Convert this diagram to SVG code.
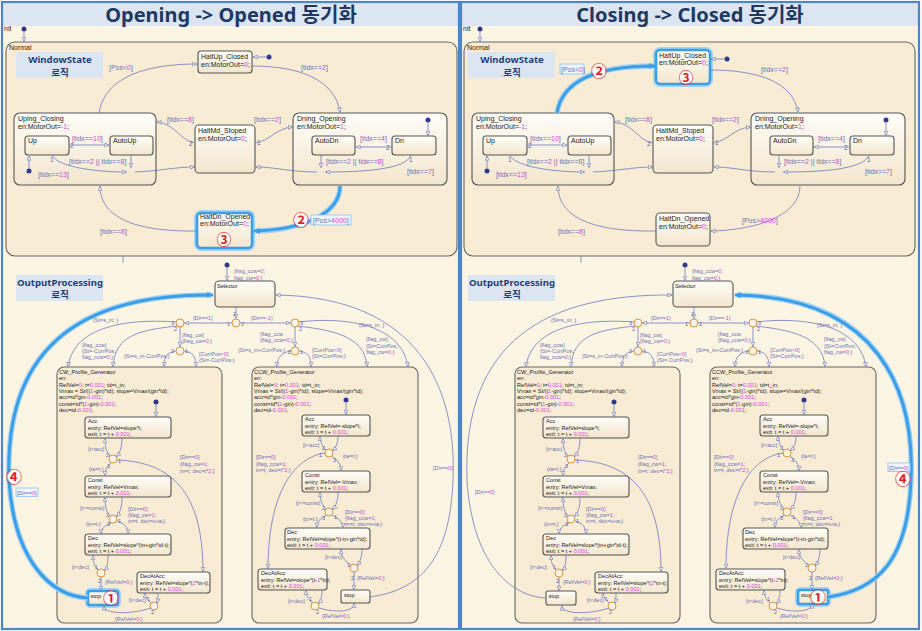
<svg xmlns="http://www.w3.org/2000/svg" width="922" height="631" viewBox="0 0 922 631">
<defs>
<style>
.bg{fill:#fdf5e3}
.tb{fill:#dce6f2}
.pb{fill:none;stroke:#4a86c8;stroke-width:2.2}
.ttl{font-family:"Noto Sans","Noto Sans CJK KR",sans-serif;font-weight:bold;font-size:20px;fill:#1f3864;text-anchor:middle}
.lg{fill:#dce6f2}
.lgt{font-family:"Noto Sans","Noto Sans CJK KR",sans-serif;font-size:9.6px;font-weight:bold;fill:#233f7a;text-anchor:middle}
.sup{fill:#f8ecd5;stroke:#666;stroke-width:1.1}
.st{fill:url(#gs);stroke:#555;stroke-width:1.1}
.t{font-family:"Liberation Sans",Arial,sans-serif;font-size:7px;fill:#1a1a1a}
.s{font-family:"Liberation Sans",Arial,sans-serif;font-size:5.6px;fill:#1a1a1a}
.l{font-family:"Liberation Sans",Arial,sans-serif;font-size:7px;fill:#6d70b3}
.ls{font-family:"Liberation Sans",Arial,sans-serif;font-size:5.5px;fill:#6d70b3}
.m{fill:#e03ee0}
.p{font-family:"Liberation Sans",Arial,sans-serif;font-size:6.5px;fill:#5b60a8}
.ps{font-family:"Liberation Sans",Arial,sans-serif;font-size:5.5px;fill:#5b60a8}
.tr{fill:none;stroke:#7079bc;stroke-width:0.8;marker-end:url(#a)}
.ln{fill:none;stroke:#7079bc;stroke-width:0.8}
.jn{fill:#fdf4e4;stroke:#e8913a;stroke-width:1}
.dt{fill:#2e3a8c}
.hg{fill:none;stroke:#a6d3f5;stroke-width:6}
.hb{fill:none;stroke:#3b9fe8;stroke-width:2.6}
.htg{fill:none;stroke:#a6d3f5;stroke-width:5.5}
.ht{fill:none;stroke:#3b9fe8;stroke-width:3;marker-end:url(#ab)}
.lbx{fill:#eef5fb;stroke:#8cc4ee;stroke-width:0.8}
.rc{fill:#ffffff}
.rn{font-family:"Noto Sans CJK KR","Noto Sans CJK SC",sans-serif;font-weight:bold;font-size:16px;fill:#e41e1e;text-anchor:middle}
.rn2{font-family:"Noto Sans CJK KR","Noto Sans CJK SC",sans-serif;font-weight:bold;font-size:14.5px;fill:#e41e1e;text-anchor:middle}
</style>
<linearGradient id="gs" x1="0" y1="0" x2="0" y2="1"><stop offset="0" stop-color="#fffdf8"/><stop offset="1" stop-color="#f3e6cd"/></linearGradient>
<marker id="a" viewBox="0 0 6 6" refX="5.5" refY="3" markerWidth="5" markerHeight="5" markerUnits="userSpaceOnUse" orient="auto"><path d="M0.5 0.8 L5.5 3 L0.5 5.2 Z" fill="#fdf6e6" stroke="#7079bc" stroke-width="0.8"/></marker>
<marker id="ab" viewBox="0 0 6 6" refX="5" refY="3" markerWidth="7" markerHeight="7" markerUnits="userSpaceOnUse" orient="auto"><path d="M0 0.5 L6 3 L0 5.5 Z" fill="#3b9fe8"/></marker>
</defs>

<!-- ================= LEFT PANEL ================= -->
<g id="L_panel">
<rect class="bg" x="3" y="3" width="455" height="625"/>
<rect class="tb" x="3" y="3" width="455" height="23"/>
<text class="ttl" x="231" y="21.5">Opening -&gt; Opened 동기화</text>
<text class="t" x="4" y="31">nit</text>

<g id="L_Normal"><rect class="sup" x="6" y="42" width="451" height="214" rx="9"/><text class="t" x="9" y="50">Normal</text></g>
<g id="L_WindowState_label"><rect class="lg" x="16" y="52" width="87" height="26"/><text class="lgt"><tspan x="60" y="63">WindowState</tspan><tspan x="60" y="75.5">로직</tspan></text></g>
<g id="L_init_normal"><circle class="dt" cx="24" cy="29" r="2.5"/></g>
<g id="L_HaltUp_Closed"><rect class="st" x="198" y="51" width="54" height="22" rx="3"/><text class="t" x="201" y="59">HaltUp_Closed</text><text class="t" x="201" y="67">en:MotorOut=<tspan class="m">0</tspan>;</text></g>
<g id="L_init_hu"><circle class="dt" cx="269" cy="57" r="2.5"/></g>
<g id="L_Uping_Closing"><rect class="st" x="14" y="113" width="142" height="72" rx="6"/><text class="t" x="18" y="121">Uping_Closing</text><text class="t" x="18" y="129">en:MotorOut=<tspan class="m">-1</tspan>;</text></g>
<g id="L_Up"><rect class="st" x="25" y="136" width="44" height="19" rx="3"/><text class="t" x="28" y="143">Up</text></g>
<g id="L_AutoUp"><rect class="st" x="110" y="136" width="43" height="19" rx="3"/><text class="t" x="113" y="143">AutoUp</text></g>
<g id="L_init_up"><circle class="dt" cx="29" cy="171" r="2.5"/></g>
<g id="L_HaltMd_Stoped"><rect class="st" x="195" y="125" width="60" height="48" rx="4"/><text class="t" x="198" y="133">HaltMd_Stoped</text><text class="t" x="198" y="141">en:MotorOut=<tspan class="m">0</tspan>;</text></g>
<g id="L_Dning_Opening"><rect class="st" x="293" y="113" width="154" height="72" rx="6"/><text class="t" x="297" y="121">Dning_Opening</text><text class="t" x="297" y="129">en:MotorOut=<tspan class="m">1</tspan>;</text></g>
<g id="L_AutoDn"><rect class="st" x="312" y="136" width="43" height="19" rx="3"/><text class="t" x="315" y="143">AutoDn</text></g>
<g id="L_Dn"><rect class="st" x="392" y="136" width="44" height="19" rx="3"/><text class="t" x="395" y="143">Dn</text></g>
<g id="L_init_dn"><circle class="dt" cx="428" cy="120" r="2.5"/></g>
<g id="L_HaltDn_Opened"><rect class="hg" x="197" y="213" width="55" height="35" rx="4"/><rect class="st" x="197" y="213" width="55" height="35" rx="4"/><rect class="hb" x="197" y="213" width="55" height="35" rx="4"/><text class="t" x="200" y="219">HaltDn_Opened</text><text class="t" x="200" y="225.5">en:MotorOut=<tspan class="m">0</tspan>;</text><circle class="rc" cx="224" cy="239" r="6"/><text class="rn2" x="224" y="244.5">③</text></g>

<g id="L_OutputProcessing_label"><rect class="lg" x="16" y="275" width="87" height="26"/><text class="lgt"><tspan x="60" y="286">OutputProcessing</tspan><tspan x="60" y="298">로직</tspan></text></g>
<g id="L_init_sel"><circle class="dt" cx="227" cy="265" r="2.5"/></g>
<g id="L_Selector"><rect class="st" x="215" y="281" width="60" height="26" rx="4"/><text class="s" x="217" y="288">Selector</text></g>
<g id="L_j0"><circle class="jn" cx="236" cy="323" r="4"/></g>
<g id="L_jL"><circle class="jn" cx="180" cy="323" r="4"/></g>
<g id="L_jL2"><circle class="jn" cx="180" cy="351" r="4"/></g>
<g id="L_jR"><circle class="jn" cx="295" cy="323" r="4"/></g>
<g id="L_jR2"><circle class="jn" cx="295" cy="351" r="4"/></g>

<g id="L_CW_Profile_Generator"><rect class="sup" x="57" y="367" width="165" height="256" rx="7"/>
<text class="s" x="59" y="374">CW_Profile_Generator</text>
<text class="s" x="59" y="380.3">en:</text>
<text class="s" x="59" y="386.6">RefVel=<tspan class="m">0</tspan>; t=<tspan class="m">0.001</tspan>; td=t_in;</text>
<text class="s" x="59" y="392.9">Vmax = St/((<tspan class="m">1</tspan>-gin)*td); slope=Vmax/(gin*td);</text>
<text class="s" x="59" y="399.2">acc=td*gin-<tspan class="m">0.001</tspan>;</text>
<text class="s" x="59" y="405.5">const=td*(<tspan class="m">1</tspan>-gin)-<tspan class="m">0.001</tspan>;</text>
<text class="s" x="59" y="411.8">dec=td-<tspan class="m">0.001</tspan>;</text></g>
<g id="L_cw_init"><circle class="dt" cx="156" cy="402" r="2.5"/></g>
<g id="L_cw_Acc"><rect class="st" x="85" y="417" width="86" height="21" rx="3"/><text class="s" x="88" y="423">Acc</text><text class="s" x="88" y="429.5">entry: RefVel=slope*t;</text><text class="s" x="88" y="436">exit: t = t + <tspan class="m">0.001</tspan>;</text></g>
<g id="L_cw_Const"><rect class="st" x="85" y="476" width="86" height="21" rx="3"/><text class="s" x="88" y="482">Const</text><text class="s" x="88" y="488.5">entry: RefVel=Vmax;</text><text class="s" x="88" y="495">exit: t = t + <tspan class="m">0.001</tspan>;</text></g>
<g id="L_cw_Dec"><rect class="st" x="85" y="534" width="86" height="21" rx="3"/><text class="s" x="88" y="540">Dec</text><text class="s" x="88" y="546.5">entry: RefVel=slope*(tn+gin*td-t);</text><text class="s" x="88" y="553">exit: t = t + <tspan class="m">0.001</tspan>;</text></g>
<g id="L_cw_DecAtAcc"><rect class="st" x="137" y="572" width="73" height="21" rx="3"/><text class="s" x="140" y="578">DecAtAcc</text><text class="s" x="140" y="584.5">entry: RefVel=slope*(<tspan class="m">2</tspan>*tn-t);</text><text class="s" x="140" y="591">exit: t = t + <tspan class="m">0.001</tspan>;</text></g>
<g id="L_cw_stop"><rect class="hg" x="88" y="591" width="30" height="14" rx="2"/><rect class="st" x="88" y="591" width="30" height="14" rx="2"/><rect class="hb" x="88" y="591" width="30" height="14" rx="2"/><text class="s" x="90.5" y="597.5">stop</text><circle class="rc" cx="111" cy="598" r="6.5"/><text class="rn" x="111" y="604">①</text></g>
<g id="L_cw_jA"><circle class="jn" cx="113" cy="459" r="4"/></g>
<g id="L_cw_jC"><circle class="jn" cx="113" cy="519" r="4"/></g>
<g id="L_cw_jD"><circle class="jn" cx="101" cy="573" r="4"/></g>
<g id="L_cw_jE"><circle class="jn" cx="154" cy="606" r="4"/></g>

<g id="L_CCW_Profile_Generator"><rect class="sup" x="252" y="367" width="166" height="256" rx="7"/>
<text class="s" x="254" y="374">CCW_Profile_Generator</text>
<text class="s" x="254" y="380.3">en:</text>
<text class="s" x="254" y="386.6">RefVel=<tspan class="m">0</tspan>; t=<tspan class="m">0.001</tspan>; td=t_in;</text>
<text class="s" x="254" y="392.9">Vmax = St/((<tspan class="m">1</tspan>-gin)*td); slope=Vmax/(gin*td);</text>
<text class="s" x="254" y="399.2">acc=td*gin-<tspan class="m">0.001</tspan>;</text>
<text class="s" x="254" y="405.5">const=td*(<tspan class="m">1</tspan>-gin)-<tspan class="m">0.001</tspan>;</text>
<text class="s" x="254" y="411.8">dec=td-<tspan class="m">0.001</tspan>;</text></g>
<g id="L_ccw_init"><circle class="dt" cx="346" cy="400" r="2.5"/></g>
<g id="L_ccw_Acc"><rect class="st" x="302" y="415" width="68" height="21" rx="3"/><text class="s" x="305" y="421">Acc</text><text class="s" x="305" y="427.5">entry: RefVel=-slope*t;</text><text class="s" x="305" y="434">exit: t = t + <tspan class="m">0.001</tspan>;</text></g>
<g id="L_ccw_Const"><rect class="st" x="302" y="471" width="68" height="21" rx="3"/><text class="s" x="305" y="477">Const</text><text class="s" x="305" y="483.5">entry: RefVel=-Vmax;</text><text class="s" x="305" y="490">exit: t = t + <tspan class="m">0.001</tspan>;</text></g>
<g id="L_ccw_Dec"><rect class="st" x="285" y="528" width="85" height="21" rx="3"/><text class="s" x="287" y="534">Dec</text><text class="s" x="287" y="540.5">entry: RefVel=slope*(t-tn-gin*td);</text><text class="s" x="287" y="547">exit: t = t + <tspan class="m">0.001</tspan>;</text></g>
<g id="L_ccw_DecAtAcc"><rect class="st" x="258" y="569" width="69" height="21" rx="3"/><text class="s" x="261" y="575">DecAtAcc</text><text class="s" x="261" y="581.5">entry: RefVel=slope*(t-<tspan class="m">2</tspan>*tn);</text><text class="s" x="261" y="588">exit: t = t + <tspan class="m">0.001</tspan>;</text></g>
<g id="L_ccw_stop"><rect class="st" x="341" y="590" width="29" height="13" rx="2"/><text class="s" x="344" y="596.5">stop</text></g>
<g id="L_ccw_jA"><circle class="jn" cx="329" cy="453" r="4"/></g>
<g id="L_ccw_jC"><circle class="jn" cx="329" cy="512" r="4"/></g>
<g id="L_ccw_jD"><circle class="jn" cx="354" cy="568" r="4"/></g>
<g id="L_ccw_jE"><circle class="jn" cx="315" cy="606" r="4"/></g>

<g id="L_connectors">
<path class="tr" d="M24 31.5 V41.5"/>
<path class="tr" d="M266.5 57 H253"/>
<path class="tr" d="M99 113 C105 75 150 64 197 64"/>
<path class="tr" d="M252 66 C300 66 335 80 340 112"/>
<path class="tr" d="M69 145 H109"/>
<path class="tr" d="M29 168.5 V156"/>
<path class="tr" d="M131 155 V167.5"/>
<path class="tr" d="M52 155 C58 168 100 172 126.5 172"/>
<path class="tr" d="M135 172 C160 171 175 167 194.5 167"/>
<path class="tr" d="M195 143 C180 141 176 124 157 122"/>
<path class="tr" d="M255 143 C270 141 276 128 292.5 127"/>
<path class="tr" d="M428 122.5 V135.5"/>
<path class="tr" d="M392 147 H356"/>
<path class="tr" d="M321 155 V167.5"/>
<path class="tr" d="M411 155 C406 170 360 172 325.5 172"/>
<path class="tr" d="M317 172 C290 172 275 167 256 167"/>
<path class="htg" d="M340 186 C340 215 300 230 256 231"/>
<path class="ht" d="M340 186 C340 215 300 230 254 231"/>
<path class="tr" d="M197 231 C130 232 100 215 100 186"/>
<path class="ln" d="M123 256 V263"/>
<path class="tr" d="M227 267.5 V280.5"/>
<path class="tr" d="M236 307 V318.5"/>
<path class="tr" d="M232 323 H184.5"/>
<path class="tr" d="M240 323 H290.5"/>
<path class="tr" d="M176 322 C150 320 75 318 68 366.5"/>
<path class="tr" d="M177 326 C140 330 115 335 113 366.5"/>
<path class="tr" d="M180 327 V346.5"/>
<path class="tr" d="M176 351 C168 352 164 356 164 366.5"/>
<path class="tr" d="M184 351 C192 352 196 356 196 366.5"/>
<path class="tr" d="M295 327 V346.5"/>
<path class="tr" d="M291 351 C283 352 277 356 277 366.5"/>
<path class="tr" d="M299 351 C307 352 311 356 311 366.5"/>
<path class="tr" d="M299 322 C330 318 400 318 408 366.5"/>
<path class="tr" d="M298 326 C330 330 365 335 367 366.5"/>
<path class="tr" d="M156 404.5 V416.5"/>
<path class="tr" d="M110 456 C106 452 105 445 105 438.5"/>
<path class="tr" d="M122 438 C122 447 120 453 116.5 456.5"/>
<path class="tr" d="M111 463 C106 467 105 471 105 475.5"/>
<path class="tr" d="M117 460 C170 462 203 490 203 571.5"/>
<path class="tr" d="M110 516 C106 512 105 505 105 497.5"/>
<path class="tr" d="M122 497 C122 507 120 513 116.5 516.5"/>
<path class="tr" d="M111 523 C104 526 101 529 101 533.5"/>
<path class="tr" d="M117 521 C124 523 128 527 128 533.5"/>
<path class="tr" d="M98 570 C94 566 93 561 93 555.5"/>
<path class="tr" d="M108 555 C108 563 107 568 104.5 570.5"/>
<path class="tr" d="M101 577 V590.5"/>
<path class="tr" d="M151 603 C147 599 145 597 145 593.5"/>
<path class="tr" d="M158 593 C158 598 158 600 157 603"/>
<path class="tr" d="M151 608 C130 615 104 614 104 606"/>
<path class="tr" d="M346 402.5 V414.5"/>
<path class="tr" d="M326 450 C322 446 320 441 320 436.5"/>
<path class="tr" d="M338 436 C338 443 336 448 332.5 450.5"/>
<path class="tr" d="M332 456.5 C338 460 341 465 341 470.5"/>
<path class="tr" d="M325 453 C290 458 268 500 268 568.5"/>
<path class="tr" d="M326 509 C322 505 320 499 320 492.5"/>
<path class="tr" d="M338 492 C338 501 336 506 332.5 509.5"/>
<path class="tr" d="M326 515.5 C320 518 317 522 317 527.5"/>
<path class="tr" d="M332.5 515.5 C338 518 343 522 343 527.5"/>
<path class="tr" d="M351 565 C343 560 341 555 341 549.5"/>
<path class="tr" d="M362 549 C362 557 360 562 357.5 565.5"/>
<path class="tr" d="M354 572 V589.5"/>
<path class="tr" d="M312 603 C308 599 306 595 306 590.5"/>
<path class="tr" d="M322 590 C322 597 321 601 318.5 603.5"/>
<path class="tr" d="M319 608 C335 613 354 612 354 603.5"/>
<path class="htg" d="M88 598 C50 596 14 560 9 480 C4 340 90 294 211 295"/>
<path class="ht" d="M88 598 C50 596 14 560 9 480 C4 340 90 294 213 295"/>
<path class="tr" d="M370 597 C420 590 450 560 453 480 C457 390 420 297 276 295"/>
</g>

<g id="L_labels">
<text class="l" x="109" y="70">[Pos&lt;<tspan class="m">0</tspan>]</text>
<text class="l" x="301" y="70">[tidx==<tspan class="m">2</tspan>]</text>
<text class="l" x="72" y="141">[tidx==<tspan class="m">10</tspan>]</text>
<text class="p" x="70" y="148">2</text>
<text class="l" x="69" y="164">[tidx==<tspan class="m">2</tspan> || tidx==<tspan class="m">8</tspan>]</text>
<text class="p" x="50" y="162">1</text>
<text class="l" x="38" y="177">[tidx==<tspan class="m">13</tspan>]</text>
<text class="l" x="167" y="122">[tidx==<tspan class="m">8</tspan>]</text>
<text class="p" x="189" y="146">2</text>
<text class="l" x="254" y="122">[tidx==<tspan class="m">2</tspan>]</text>
<text class="p" x="257" y="145">1</text>
<text class="l" x="360" y="141">[tidx==<tspan class="m">4</tspan>]</text>
<text class="p" x="386" y="150">2</text>
<text class="l" x="326" y="164">[tidx==<tspan class="m">2</tspan> || tidx==<tspan class="m">8</tspan>]</text>
<text class="p" x="409" y="162">1</text>
<text class="l" x="407" y="174">[tidx==<tspan class="m">7</tspan>]</text>
<rect class="lbx" x="311" y="215" width="40" height="10"/>
<text class="l" x="313" y="222.5">[Pos&gt;<tspan class="m">4000</tspan>]</text>
<circle class="rc" cx="301" cy="220" r="6.5"/><text class="rn" x="301" y="226">②</text>
<text class="l" x="100" y="234">[tidx==<tspan class="m">8</tspan>]</text>
<text class="ls" x="234" y="273">{flag_ccw=<tspan class="m">0</tspan>;</text>
<text class="ls" x="234" y="280">flag_cw=<tspan class="m">0</tspan>;}</text>
<text class="ps" x="233" y="316">2</text>
<text class="ps" x="227" y="326">1</text>
<text class="ps" x="241" y="326">2</text>
<text class="ls" x="193" y="320">[Dir==<tspan class="m">1</tspan>]</text>
<text class="ls" x="251" y="320">[Dir==<tspan class="m">-1</tspan>]</text>
<text class="ps" x="171" y="325">3</text>
<text class="ps" x="174" y="331">2</text>
<text class="ls" x="93" y="322">{St=s_in; }</text>
<text class="ls" x="82" y="347">[flag_ccw]</text>
<text class="ls" x="82" y="353">{St=-CurrPos;</text>
<text class="ls" x="82" y="359">flag_ccw=<tspan class="m">0</tspan>;}</text>
<text class="ls" x="182" y="337">[flag_cw]</text>
<text class="ls" x="182" y="343">{flag_cw=<tspan class="m">0</tspan>;}</text>
<text class="ps" x="171" y="353">2</text>
<text class="ps" x="185" y="353">1</text>
<text class="ls" x="124" y="358">{St=s_in-CurrPos;}</text>
<text class="ls" x="199" y="356">[CurrPos&lt;<tspan class="m">0</tspan>]</text>
<text class="ls" x="199" y="362">{St=-CurrPos;}</text>
<text class="ps" x="300" y="325">3</text>
<text class="ps" x="299" y="331">2</text>
<text class="ls" x="260" y="336">[flag_ccw</text>
<text class="ls" x="260" y="342">{flag_ccw=<tspan class="m">0</tspan>;}</text>
<text class="ps" x="287.5" y="354">2</text>
<text class="ps" x="300" y="354">1</text>
<text class="ls" x="238" y="352">{St=s_in+CurrPos;}</text>
<text class="ls" x="312" y="352">[CurrPos&gt;<tspan class="m">0</tspan>]</text>
<text class="ls" x="312" y="358">{St=CurrPos;}</text>
<text class="ls" x="359" y="327">{St=s_in; }</text>
<text class="ls" x="366" y="341">[flag_cw]</text>
<text class="ls" x="366" y="348">{St=CurrPos;</text>
<text class="ls" x="366" y="354">flag_cw=<tspan class="m">0</tspan>;}</text>
<text class="ls" x="88" y="451">[t&lt;acc]</text>
<text class="ps" x="106" y="457">2</text>
<text class="ps" x="107" y="468">3</text>
<text class="ps" x="118" y="463">1</text>
<text class="ls" x="89" y="471">{ta=t;}</text>
<text class="ls" x="180" y="459">[Dir==<tspan class="m">0</tspan>]</text>
<text class="ls" x="180" y="466">{flag_cw=<tspan class="m">1</tspan>;</text>
<text class="ls" x="180" y="472.5">tn=t; dec=t*<tspan class="m">2</tspan>;}</text>
<text class="ls" x="80" y="510">[t&lt;=const]</text>
<text class="ps" x="106" y="517">2</text>
<text class="ps" x="107" y="526">3</text>
<text class="ps" x="118" y="523">1</text>
<text class="ls" x="86" y="526">{tn=t;}</text>
<text class="ls" x="128" y="511">[Dir==<tspan class="m">0</tspan>]</text>
<text class="ls" x="128" y="517">{flag_cw=<tspan class="m">1</tspan>;</text>
<text class="ls" x="128" y="523">tn=t; dec=t+ta;}</text>
<text class="ls" x="72" y="569">[t&lt;dec]</text>
<text class="ps" x="95" y="569">1</text>
<text class="ps" x="98" y="583">2</text>
<text class="ls" x="105" y="584">{RefVel=<tspan class="m">0</tspan>;}</text>
<text class="ls" x="129" y="602">[t&lt;dec]</text>
<text class="ps" x="147" y="601">1</text>
<text class="ps" x="151" y="614">2</text>
<text class="ls" x="115" y="621">{RefVel=<tspan class="m">0</tspan>;}</text>
<text class="ls" x="303" y="447">[t&lt;acc]</text>
<text class="ps" x="322" y="449.5">2</text>
<text class="ps" x="319" y="457">1</text>
<text class="ps" x="333" y="462">3</text>
<text class="ls" x="343" y="458">{ta=t;}</text>
<text class="ls" x="256" y="459">[Dir==<tspan class="m">0</tspan>]</text>
<text class="ls" x="256" y="465.5">{flag_ccw=<tspan class="m">1</tspan>;</text>
<text class="ls" x="256" y="472">tn=t; dec=t*<tspan class="m">2</tspan>;}</text>
<text class="ls" x="296" y="505">[t&lt;=const]</text>
<text class="ps" x="322" y="510">2</text>
<text class="ps" x="322" y="520">3</text>
<text class="ps" x="334" y="519">1</text>
<text class="ls" x="303" y="521">{tn=t;}</text>
<text class="ls" x="345" y="514">[Dir==<tspan class="m">0</tspan>]</text>
<text class="ls" x="345" y="520">{flag_ccw=<tspan class="m">1</tspan>;</text>
<text class="ls" x="345" y="526">tn=t; dec=t+ta;}</text>
<text class="ls" x="325" y="559">[t&lt;dec]</text>
<text class="ps" x="347" y="567">1</text>
<text class="ps" x="351" y="580">2</text>
<text class="ls" x="357" y="580">{RefVel=<tspan class="m">0</tspan>;}</text>
<text class="ls" x="288" y="603">[t&lt;dec]</text>
<text class="ps" x="309" y="601">1</text>
<text class="ps" x="316" y="614">2</text>
<text class="ls" x="322" y="618">{RefVel=<tspan class="m">0</tspan>;}</text>
<circle class="rc" cx="14" cy="477" r="6.5"/><text class="rn" x="14" y="483">④</text>
<rect class="lbx" x="16" y="488" width="22" height="8.5"/>
<text class="ls" x="17" y="494.5">[Dir==<tspan class="m">0</tspan>]</text>
<text class="ls" x="433" y="470">[Dir==<tspan class="m">0</tspan>]</text>
</g>
<rect class="pb" x="2" y="2" width="457" height="627"/>
</g>

<!-- ================= RIGHT PANEL ================= -->
<g id="R_panel" transform="translate(458,0)">
<rect class="bg" x="4" y="3" width="456" height="625"/>
<rect class="tb" x="4" y="3" width="456" height="23"/>
<text class="ttl" x="232" y="21.5">Closing -&gt; Closed 동기화</text>
<text class="t" x="5" y="31">nit</text>

<g id="R_Normal"><rect class="sup" x="6" y="42" width="451" height="214" rx="9"/><text class="t" x="9" y="50">Normal</text></g>
<g id="R_WindowState_label"><rect class="lg" x="10" y="52" width="87" height="26"/><text class="lgt"><tspan x="54" y="63">WindowState</tspan><tspan x="54" y="75.5">로직</tspan></text></g>
<g id="R_init_normal"><circle class="dt" cx="22" cy="29" r="2.5"/></g>
<g id="R_HaltUp_Closed"><rect class="hg" x="198" y="50" width="54" height="34" rx="4"/><rect class="st" x="198" y="50" width="54" height="34" rx="4"/><rect class="hb" x="198" y="50" width="54" height="34" rx="4"/><text class="t" x="201" y="57.5">HaltUp_Closed</text><text class="t" x="201" y="64.5">en:MotorOut=<tspan class="m">0</tspan>;</text><circle class="rc" cx="228" cy="77.5" r="6"/><text class="rn2" x="228" y="83">③</text></g>
<g id="R_init_hu"><circle class="dt" cx="269" cy="59" r="2.5"/></g>
<g id="R_Uping_Closing"><rect class="st" x="14" y="113" width="142" height="72" rx="6"/><text class="t" x="18" y="121">Uping_Closing</text><text class="t" x="18" y="129">en:MotorOut=<tspan class="m">-1</tspan>;</text></g>
<g id="R_Up"><rect class="st" x="25" y="136" width="44" height="19" rx="3"/><text class="t" x="28" y="143">Up</text></g>
<g id="R_AutoUp"><rect class="st" x="110" y="136" width="43" height="19" rx="3"/><text class="t" x="113" y="143">AutoUp</text></g>
<g id="R_init_up"><circle class="dt" cx="29" cy="171" r="2.5"/></g>
<g id="R_HaltMd_Stoped"><rect class="st" x="195" y="125" width="60" height="48" rx="4"/><text class="t" x="198" y="133">HaltMd_Stoped</text><text class="t" x="198" y="141">en:MotorOut=<tspan class="m">0</tspan>;</text></g>
<g id="R_Dning_Opening"><rect class="st" x="293" y="113" width="154" height="72" rx="6"/><text class="t" x="297" y="121">Dning_Opening</text><text class="t" x="297" y="129">en:MotorOut=<tspan class="m">1</tspan>;</text></g>
<g id="R_AutoDn"><rect class="st" x="312" y="136" width="43" height="19" rx="3"/><text class="t" x="315" y="143">AutoDn</text></g>
<g id="R_Dn"><rect class="st" x="392" y="136" width="44" height="19" rx="3"/><text class="t" x="395" y="143">Dn</text></g>
<g id="R_init_dn"><circle class="dt" cx="428" cy="120" r="2.5"/></g>
<g id="R_HaltDn_Opened"><rect class="st" x="198" y="213" width="54" height="33" rx="4"/><text class="t" x="201" y="221">HaltDn_Opened</text><text class="t" x="201" y="229">en:MotorOut=<tspan class="m">0</tspan>;</text></g>

<g id="R_OutputProcessing_label"><rect class="lg" x="10" y="275" width="87" height="26"/><text class="lgt"><tspan x="54" y="286">OutputProcessing</tspan><tspan x="54" y="298">로직</tspan></text></g>
<g id="R_init_sel"><circle class="dt" cx="227" cy="265" r="2.5"/></g>
<g id="R_Selector"><rect class="st" x="215" y="281" width="60" height="26" rx="4"/><text class="s" x="217" y="288">Selector</text></g>
<g id="R_j0"><circle class="jn" cx="236" cy="323" r="4"/></g>
<g id="R_jL"><circle class="jn" cx="180" cy="323" r="4"/></g>
<g id="R_jL2"><circle class="jn" cx="180" cy="351" r="4"/></g>
<g id="R_jR"><circle class="jn" cx="295" cy="323" r="4"/></g>
<g id="R_jR2"><circle class="jn" cx="295" cy="351" r="4"/></g>

<g id="R_CW_Profile_Generator"><rect class="sup" x="57" y="367" width="165" height="256" rx="7"/>
<text class="s" x="59" y="374">CW_Profile_Generator</text>
<text class="s" x="59" y="380.3">en:</text>
<text class="s" x="59" y="386.6">RefVel=<tspan class="m">0</tspan>; t=<tspan class="m">0.001</tspan>; td=t_in;</text>
<text class="s" x="59" y="392.9">Vmax = St/((<tspan class="m">1</tspan>-gin)*td); slope=Vmax/(gin*td);</text>
<text class="s" x="59" y="399.2">acc=td*gin-<tspan class="m">0.001</tspan>;</text>
<text class="s" x="59" y="405.5">const=td*(<tspan class="m">1</tspan>-gin)-<tspan class="m">0.001</tspan>;</text>
<text class="s" x="59" y="411.8">dec=td-<tspan class="m">0.001</tspan>;</text></g>
<g id="R_cw_init"><circle class="dt" cx="156" cy="402" r="2.5"/></g>
<g id="R_cw_Acc"><rect class="st" x="85" y="417" width="86" height="21" rx="3"/><text class="s" x="88" y="423">Acc</text><text class="s" x="88" y="429.5">entry: RefVel=slope*t;</text><text class="s" x="88" y="436">exit: t = t + <tspan class="m">0.001</tspan>;</text></g>
<g id="R_cw_Const"><rect class="st" x="85" y="476" width="86" height="21" rx="3"/><text class="s" x="88" y="482">Const</text><text class="s" x="88" y="488.5">entry: RefVel=Vmax;</text><text class="s" x="88" y="495">exit: t = t + <tspan class="m">0.001</tspan>;</text></g>
<g id="R_cw_Dec"><rect class="st" x="85" y="534" width="86" height="21" rx="3"/><text class="s" x="88" y="540">Dec</text><text class="s" x="88" y="546.5">entry: RefVel=slope*(tn+gin*td-t);</text><text class="s" x="88" y="553">exit: t = t + <tspan class="m">0.001</tspan>;</text></g>
<g id="R_cw_DecAtAcc"><rect class="st" x="137" y="572" width="73" height="21" rx="3"/><text class="s" x="140" y="578">DecAtAcc</text><text class="s" x="140" y="584.5">entry: RefVel=slope*(<tspan class="m">2</tspan>*tn-t);</text><text class="s" x="140" y="591">exit: t = t + <tspan class="m">0.001</tspan>;</text></g>
<g id="R_cw_stop"><rect class="st" x="88" y="591" width="30" height="14" rx="2"/><text class="s" x="90.5" y="597.5">stop</text></g>
<g id="R_cw_jA"><circle class="jn" cx="113" cy="459" r="4"/></g>
<g id="R_cw_jC"><circle class="jn" cx="113" cy="519" r="4"/></g>
<g id="R_cw_jD"><circle class="jn" cx="101" cy="573" r="4"/></g>
<g id="R_cw_jE"><circle class="jn" cx="154" cy="606" r="4"/></g>

<g id="R_CCW_Profile_Generator"><rect class="sup" x="252" y="367" width="166" height="256" rx="7"/>
<text class="s" x="254" y="374">CCW_Profile_Generator</text>
<text class="s" x="254" y="380.3">en:</text>
<text class="s" x="254" y="386.6">RefVel=<tspan class="m">0</tspan>; t=<tspan class="m">0.001</tspan>; td=t_in;</text>
<text class="s" x="254" y="392.9">Vmax = St/((<tspan class="m">1</tspan>-gin)*td); slope=Vmax/(gin*td);</text>
<text class="s" x="254" y="399.2">acc=td*gin-<tspan class="m">0.001</tspan>;</text>
<text class="s" x="254" y="405.5">const=td*(<tspan class="m">1</tspan>-gin)-<tspan class="m">0.001</tspan>;</text>
<text class="s" x="254" y="411.8">dec=td-<tspan class="m">0.001</tspan>;</text></g>
<g id="R_ccw_init"><circle class="dt" cx="346" cy="400" r="2.5"/></g>
<g id="R_ccw_Acc"><rect class="st" x="302" y="415" width="68" height="21" rx="3"/><text class="s" x="305" y="421">Acc</text><text class="s" x="305" y="427.5">entry: RefVel=-slope*t;</text><text class="s" x="305" y="434">exit: t = t + <tspan class="m">0.001</tspan>;</text></g>
<g id="R_ccw_Const"><rect class="st" x="302" y="471" width="68" height="21" rx="3"/><text class="s" x="305" y="477">Const</text><text class="s" x="305" y="483.5">entry: RefVel=-Vmax;</text><text class="s" x="305" y="490">exit: t = t + <tspan class="m">0.001</tspan>;</text></g>
<g id="R_ccw_Dec"><rect class="st" x="285" y="528" width="85" height="21" rx="3"/><text class="s" x="287" y="534">Dec</text><text class="s" x="287" y="540.5">entry: RefVel=slope*(t-tn-gin*td);</text><text class="s" x="287" y="547">exit: t = t + <tspan class="m">0.001</tspan>;</text></g>
<g id="R_ccw_DecAtAcc"><rect class="st" x="258" y="569" width="69" height="21" rx="3"/><text class="s" x="261" y="575">DecAtAcc</text><text class="s" x="261" y="581.5">entry: RefVel=slope*(t-<tspan class="m">2</tspan>*tn);</text><text class="s" x="261" y="588">exit: t = t + <tspan class="m">0.001</tspan>;</text></g>
<g id="R_ccw_stop"><rect class="hg" x="340" y="590" width="30" height="14" rx="2"/><rect class="st" x="340" y="590" width="30" height="14" rx="2"/><rect class="hb" x="340" y="590" width="30" height="14" rx="2"/><text class="s" x="343" y="596.5">stop</text><circle class="rc" cx="360" cy="597" r="6.5"/><text class="rn" x="360" y="603">①</text></g>
<g id="R_ccw_jA"><circle class="jn" cx="329" cy="453" r="4"/></g>
<g id="R_ccw_jC"><circle class="jn" cx="329" cy="512" r="4"/></g>
<g id="R_ccw_jD"><circle class="jn" cx="354" cy="568" r="4"/></g>
<g id="R_ccw_jE"><circle class="jn" cx="315" cy="606" r="4"/></g>

<g id="R_connectors">
<path class="tr" d="M22 31.5 V41.5"/>
<path class="tr" d="M266.5 59 H253"/>
<path class="htg" d="M99 113 C105 75 150 66 195 66"/>
<path class="ht" d="M99 113 C105 75 150 66 197 66"/>
<path class="tr" d="M252 70 C300 70 335 82 340 112"/>
<path class="tr" d="M69 145 H109"/>
<path class="tr" d="M29 168.5 V156"/>
<path class="tr" d="M131 155 V167.5"/>
<path class="tr" d="M52 155 C58 168 100 172 126.5 172"/>
<path class="tr" d="M135 172 C160 171 175 167 194.5 167"/>
<path class="tr" d="M195 143 C180 141 176 124 157 122"/>
<path class="tr" d="M255 143 C270 141 276 128 292.5 127"/>
<path class="tr" d="M428 122.5 V135.5"/>
<path class="tr" d="M392 147 H356"/>
<path class="tr" d="M321 155 V167.5"/>
<path class="tr" d="M411 155 C406 170 360 172 325.5 172"/>
<path class="tr" d="M317 172 C290 172 275 167 256 167"/>
<path class="tr" d="M342 186 C342 215 300 230 253 231"/>
<path class="tr" d="M198 231 C130 232 100 215 100 186"/>
<path class="ln" d="M123 256 V263"/>
<path class="tr" d="M227 267.5 V280.5"/>
<path class="tr" d="M236 307 V318.5"/>
<path class="tr" d="M232 323 H184.5"/>
<path class="tr" d="M240 323 H290.5"/>
<path class="tr" d="M176 322 C150 320 75 318 68 366.5"/>
<path class="tr" d="M177 326 C140 330 115 335 113 366.5"/>
<path class="tr" d="M180 327 V346.5"/>
<path class="tr" d="M176 351 C168 352 164 356 164 366.5"/>
<path class="tr" d="M184 351 C192 352 196 356 196 366.5"/>
<path class="tr" d="M295 327 V346.5"/>
<path class="tr" d="M291 351 C283 352 277 356 277 366.5"/>
<path class="tr" d="M299 351 C307 352 311 356 311 366.5"/>
<path class="tr" d="M299 322 C330 318 400 318 408 366.5"/>
<path class="tr" d="M298 326 C330 330 365 335 367 366.5"/>
<path class="tr" d="M156 404.5 V416.5"/>
<path class="tr" d="M110 456 C106 452 105 445 105 438.5"/>
<path class="tr" d="M122 438 C122 447 120 453 116.5 456.5"/>
<path class="tr" d="M111 463 C106 467 105 471 105 475.5"/>
<path class="tr" d="M117 460 C170 462 203 490 203 571.5"/>
<path class="tr" d="M110 516 C106 512 105 505 105 497.5"/>
<path class="tr" d="M122 497 C122 507 120 513 116.5 516.5"/>
<path class="tr" d="M111 523 C104 526 101 529 101 533.5"/>
<path class="tr" d="M117 521 C124 523 128 527 128 533.5"/>
<path class="tr" d="M98 570 C94 566 93 561 93 555.5"/>
<path class="tr" d="M108 555 C108 563 107 568 104.5 570.5"/>
<path class="tr" d="M101 577 V590.5"/>
<path class="tr" d="M151 603 C147 599 145 597 145 593.5"/>
<path class="tr" d="M158 593 C158 598 158 600 157 603"/>
<path class="tr" d="M151 608 C130 615 104 614 104 606"/>
<path class="tr" d="M346 402.5 V414.5"/>
<path class="tr" d="M326 450 C322 446 320 441 320 436.5"/>
<path class="tr" d="M338 436 C338 443 336 448 332.5 450.5"/>
<path class="tr" d="M332 456.5 C338 460 341 465 341 470.5"/>
<path class="tr" d="M325 453 C290 458 268 500 268 568.5"/>
<path class="tr" d="M326 509 C322 505 320 499 320 492.5"/>
<path class="tr" d="M338 492 C338 501 336 506 332.5 509.5"/>
<path class="tr" d="M326 515.5 C320 518 317 522 317 527.5"/>
<path class="tr" d="M332.5 515.5 C338 518 343 522 343 527.5"/>
<path class="tr" d="M351 565 C343 560 341 555 341 549.5"/>
<path class="tr" d="M362 549 C362 557 360 562 357.5 565.5"/>
<path class="tr" d="M354 572 V589.5"/>
<path class="tr" d="M312 603 C308 599 306 595 306 590.5"/>
<path class="tr" d="M322 590 C322 597 321 601 318.5 603.5"/>
<path class="tr" d="M319 608 C335 613 354 612 354 604"/>
<path class="tr" d="M88 598 C50 596 14 560 9 480 C4 340 90 294 214 295"/>
<path class="htg" d="M370 597 C420 590 450 560 453 480 C457 390 420 297 279 295"/>
<path class="ht" d="M370 597 C420 590 450 560 453 480 C457 390 420 297 277 295"/>
</g>

<g id="R_labels">
<rect class="lbx" x="102" y="64" width="24" height="10"/>
<text class="l" x="103" y="71.5">[Pos&lt;<tspan class="m">0</tspan>]</text>
<circle class="rc" cx="141" cy="71" r="6.5"/><text class="rn" x="141" y="77">②</text>
<text class="l" x="303" y="72">[tidx==<tspan class="m">2</tspan>]</text>
<text class="l" x="72" y="141">[tidx==<tspan class="m">10</tspan>]</text>
<text class="p" x="70" y="148">2</text>
<text class="l" x="69" y="164">[tidx==<tspan class="m">2</tspan> || tidx==<tspan class="m">8</tspan>]</text>
<text class="p" x="50" y="162">1</text>
<text class="l" x="38" y="177">[tidx==<tspan class="m">13</tspan>]</text>
<text class="l" x="167" y="122">[tidx==<tspan class="m">8</tspan>]</text>
<text class="p" x="189" y="146">2</text>
<text class="l" x="254" y="122">[tidx==<tspan class="m">2</tspan>]</text>
<text class="p" x="257" y="145">1</text>
<text class="l" x="360" y="141">[tidx==<tspan class="m">4</tspan>]</text>
<text class="p" x="386" y="150">2</text>
<text class="l" x="326" y="164">[tidx==<tspan class="m">2</tspan> || tidx==<tspan class="m">8</tspan>]</text>
<text class="p" x="409" y="162">1</text>
<text class="l" x="407" y="174">[tidx==<tspan class="m">7</tspan>]</text>
<text class="l" x="284" y="222.5">[Pos&gt;<tspan class="m">4000</tspan>]</text>
<text class="l" x="100" y="234">[tidx==<tspan class="m">8</tspan>]</text>
<text class="ls" x="234" y="273">{flag_ccw=<tspan class="m">0</tspan>;</text>
<text class="ls" x="234" y="280">flag_cw=<tspan class="m">0</tspan>;}</text>
<text class="ps" x="233" y="316">2</text>
<text class="ps" x="227" y="326">1</text>
<text class="ps" x="241" y="326">2</text>
<text class="ls" x="193" y="320">[Dir==<tspan class="m">1</tspan>]</text>
<text class="ls" x="251" y="320">[Dir==<tspan class="m">-1</tspan>]</text>
<text class="ps" x="171" y="325">3</text>
<text class="ps" x="174" y="331">2</text>
<text class="ls" x="93" y="322">{St=s_in; }</text>
<text class="ls" x="82" y="347">[flag_ccw]</text>
<text class="ls" x="82" y="353">{St=-CurrPos;</text>
<text class="ls" x="82" y="359">flag_ccw=<tspan class="m">0</tspan>;}</text>
<text class="ls" x="182" y="337">[flag_cw]</text>
<text class="ls" x="182" y="343">{flag_cw=<tspan class="m">0</tspan>;}</text>
<text class="ps" x="171" y="353">2</text>
<text class="ps" x="185" y="353">1</text>
<text class="ls" x="124" y="358">{St=s_in-CurrPos;}</text>
<text class="ls" x="199" y="356">[CurrPos&lt;<tspan class="m">0</tspan>]</text>
<text class="ls" x="199" y="362">{St=-CurrPos;}</text>
<text class="ps" x="300" y="325">3</text>
<text class="ps" x="299" y="331">2</text>
<text class="ls" x="260" y="336">[flag_ccw</text>
<text class="ls" x="260" y="342">{flag_ccw=<tspan class="m">0</tspan>;}</text>
<text class="ps" x="287.5" y="354">2</text>
<text class="ps" x="300" y="354">1</text>
<text class="ls" x="238" y="352">{St=s_in+CurrPos;}</text>
<text class="ls" x="312" y="352">[CurrPos&gt;<tspan class="m">0</tspan>]</text>
<text class="ls" x="312" y="358">{St=CurrPos;}</text>
<text class="ls" x="359" y="327">{St=s_in; }</text>
<text class="ls" x="366" y="341">[flag_cw]</text>
<text class="ls" x="366" y="348">{St=CurrPos;</text>
<text class="ls" x="366" y="354">flag_cw=<tspan class="m">0</tspan>;}</text>
<text class="ls" x="88" y="451">[t&lt;acc]</text>
<text class="ps" x="106" y="457">2</text>
<text class="ps" x="107" y="468">3</text>
<text class="ps" x="118" y="463">1</text>
<text class="ls" x="89" y="471">{ta=t;}</text>
<text class="ls" x="180" y="459">[Dir==<tspan class="m">0</tspan>]</text>
<text class="ls" x="180" y="466">{flag_cw=<tspan class="m">1</tspan>;</text>
<text class="ls" x="180" y="472.5">tn=t; dec=t*<tspan class="m">2</tspan>;}</text>
<text class="ls" x="80" y="510">[t&lt;=const]</text>
<text class="ps" x="106" y="517">2</text>
<text class="ps" x="107" y="526">3</text>
<text class="ps" x="118" y="523">1</text>
<text class="ls" x="86" y="526">{tn=t;}</text>
<text class="ls" x="128" y="511">[Dir==<tspan class="m">0</tspan>]</text>
<text class="ls" x="128" y="517">{flag_cw=<tspan class="m">1</tspan>;</text>
<text class="ls" x="128" y="523">tn=t; dec=t+ta;}</text>
<text class="ls" x="72" y="569">[t&lt;dec]</text>
<text class="ps" x="95" y="569">1</text>
<text class="ps" x="98" y="583">2</text>
<text class="ls" x="105" y="584">{RefVel=<tspan class="m">0</tspan>;}</text>
<text class="ls" x="129" y="602">[t&lt;dec]</text>
<text class="ps" x="147" y="601">1</text>
<text class="ps" x="151" y="614">2</text>
<text class="ls" x="115" y="621">{RefVel=<tspan class="m">0</tspan>;}</text>
<text class="ls" x="303" y="447">[t&lt;acc]</text>
<text class="ps" x="322" y="449.5">2</text>
<text class="ps" x="319" y="457">1</text>
<text class="ps" x="333" y="462">3</text>
<text class="ls" x="343" y="458">{ta=t;}</text>
<text class="ls" x="256" y="459">[Dir==<tspan class="m">0</tspan>]</text>
<text class="ls" x="256" y="465.5">{flag_ccw=<tspan class="m">1</tspan>;</text>
<text class="ls" x="256" y="472">tn=t; dec=t*<tspan class="m">2</tspan>;}</text>
<text class="ls" x="296" y="505">[t&lt;=const]</text>
<text class="ps" x="322" y="510">2</text>
<text class="ps" x="322" y="520">3</text>
<text class="ps" x="334" y="519">1</text>
<text class="ls" x="303" y="521">{tn=t;}</text>
<text class="ls" x="345" y="514">[Dir==<tspan class="m">0</tspan>]</text>
<text class="ls" x="345" y="520">{flag_ccw=<tspan class="m">1</tspan>;</text>
<text class="ls" x="345" y="526">tn=t; dec=t+ta;}</text>
<text class="ls" x="325" y="559">[t&lt;dec]</text>
<text class="ps" x="347" y="567">1</text>
<text class="ps" x="351" y="580">2</text>
<text class="ls" x="357" y="580">{RefVel=<tspan class="m">0</tspan>;}</text>
<text class="ls" x="288" y="603">[t&lt;dec]</text>
<text class="ps" x="309" y="601">1</text>
<text class="ps" x="316" y="614">2</text>
<text class="ls" x="322" y="618">{RefVel=<tspan class="m">0</tspan>;}</text>
<text class="ls" x="17" y="494">[Dir==<tspan class="m">0</tspan>]</text>
<rect class="lbx" x="430" y="463" width="22" height="8.5"/>
<text class="ls" x="431" y="469.5">[Dir==<tspan class="m">0</tspan>]</text>
<circle class="rc" cx="445" cy="479" r="6.5"/><text class="rn" x="445" y="485">④</text>
</g>
<rect class="pb" x="3" y="2" width="458" height="627"/>
</g>
</svg>
